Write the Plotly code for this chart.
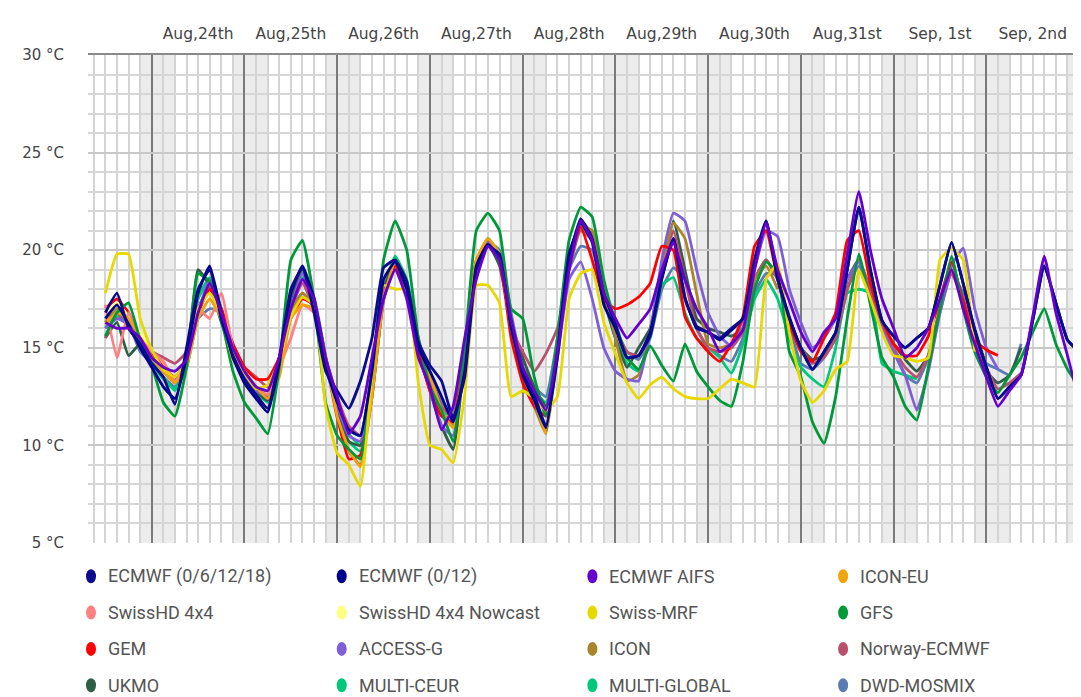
import pandas as pd
import plotly.graph_objects as go

# 3-hourly forecast steps, Aug 23 12:00 -> Sep 3 00:00
times = pd.date_range("2025-08-23 12:00", periods=85, freq="3h")

day_noons = pd.date_range("2025-08-24 12:00", periods=10, freq="D")
day_labels = ["Aug,24th", "Aug,25th", "Aug,26th", "Aug,27th", "Aug,28th",
              "Aug,29th", "Aug,30th", "Aug,31st", "Sep, 1st", "Sep, 2nd"]

ecmwf_full = [16.8, 17.8, 16.0, 15.2,
              14.2, 13.5, 12.1, 15.0, 18.0, 19.0, 16.5, 14.6,
              13.4, 12.6, 11.9, 14.5, 18.0, 19.1, 16.8, 13.8,
              12.8, 11.9, 13.3, 15.5, 19.1, 19.5, 18.4, 15.3,
              14.1, 13.3, 11.4, 13.5, 19.0, 20.2, 19.8, 16.0,
              13.8, 12.6, 11.0, 14.5, 19.5, 21.6, 20.6, 17.8,
              16.2, 14.5, 14.6, 15.6, 18.5, 20.6, 17.5, 16.1,
              15.8, 15.5, 16.0, 16.5, 19.5, 21.5, 18.5, 16.5,
              15.0, 13.9, 14.8, 15.8, 19.0, 22.2, 19.0, 16.4,
              15.6, 15.0, 15.5, 16.0, 18.2, 20.4, 18.3, 15.9,
              14.0, 12.4, 13.0, 13.6, 16.4, 19.2, 17.3, 15.4,
              14.8]

ecmwf_012 = [16.5, 17.2, 16.2, 15.0,
             14.0, 13.0, 12.4, 14.5, 17.8, 19.2, 16.8, 14.5,
             13.2, 12.4, 11.7, 14.2, 17.8, 19.2, 17.5, 14.0,
             12.2, 10.8, 10.5, 13.8, 18.5, 19.4, 18.0, 15.0,
             13.8, 12.5, 11.2, 13.8, 19.2, 20.3, 19.6, 16.2,
             13.6, 12.3, 10.9, 14.8, 19.8, 21.4, 20.4, 17.2,
             16.0, 14.5, 14.6, 15.8, 18.6, 20.6, 17.6, 16.0,
             15.8, 15.4, 15.9, 16.5, 19.4, 21.5, 18.6, 16.6,
             15.0, 13.9, 14.8, 15.8, 19.0, 22.2, 19.0, 16.4,
             15.6, 15.0, 15.5, 16.0, 18.2, 20.4, 18.3, 15.9,
             14.0, 12.4, 13.0, 13.6, 16.4, 19.2, 17.3, 15.4,
             14.8]

ecmwf_aifs = [16.3, 16.0, 16.0, 15.5,
              14.5, 14.0, 13.8, 14.4, 16.8, 18.3, 16.8, 15.0,
              13.8, 13.0, 12.8, 14.5, 17.0, 18.5, 17.5, 14.5,
              12.5, 10.6, 11.5, 14.5, 17.5, 19.0, 17.5, 14.5,
              13.0, 10.8, 12.0, 15.5, 18.5, 20.2, 19.5, 16.5,
              14.0, 12.8, 11.8, 14.8, 19.0, 21.5, 20.5, 17.8,
              16.5, 15.5, 16.2, 17.0, 19.0, 20.4, 18.5, 17.0,
              16.0, 14.8, 15.2, 15.9, 19.0, 21.4, 19.0, 17.4,
              15.8, 14.8, 15.8, 16.5, 19.8, 23.0, 20.0, 17.5,
              16.0, 14.5, 15.0, 16.0, 17.5, 19.0, 17.0, 15.2,
              13.5, 12.0, 12.8, 13.6, 16.6, 19.7, 16.8, 14.6,
              12.3]

icon_eu = [16.2, 16.8, 16.5, 15.5,
           14.5, 13.8, 13.2, 14.0, 16.5, 17.5, 16.5, 14.8,
           13.8, 13.0, 12.4, 13.5, 16.5, 17.2, 17.0, 14.5,
           11.5, 9.8, 8.9, 12.5, 17.5, 19.4, 18.3, 15.3,
           13.6, 11.8, 10.9, 14.5, 19.5, 20.6, 19.8, 16.0,
           13.8, 12.3, 10.6] + [None] * 46

swisshd = [17.2, 14.5, 16.8, 15.5,
           14.8, 14.3, 13.3, 14.2, 17.0, 16.5, 17.8, 15.0,
           13.8, 13.0, 12.6, 14.0, 15.5, 17.2, 16.8, 14.0,
           12.0] + [None] * 64

swisshd_nowcast = [16.8, 17.3, 16.6, 15.8, 14.8] + [None] * 80

swiss_mrf = [17.8, 19.8, 19.8, 16.5,
             14.9, 13.9, 13.5, 14.5, 17.0, 17.8, 16.7, 14.4,
             13.7, 12.9, 13.1, 14.3, 16.6, 17.6, 17.2, 12.0,
             9.6, 9.0, 7.9, 13.5, 18.2, 18.0, 18.0, 13.2,
             10.0, 9.8, 9.1, 12.6, 18.2, 18.2, 17.3, 12.5,
             12.8, 12.4, 11.8, 12.5, 17.5, 18.8, 19.0, 16.3,
             14.7, 13.2, 12.4, 13.1, 13.5, 12.9, 12.5, 12.4,
             12.4, 12.9, 13.4, 13.2, 13.0, 18.5, 19.3, 15.8,
             13.3, 12.2, 12.8, 13.9, 14.3, 19.0, 17.5, 15.8,
             14.6, 14.5, 14.3, 14.5, 19.5, 20.1, 19.5, 14.8] + [None] * 9

gfs = [15.6, 16.8, 17.3, 15.4,
       14.1, 12.2, 11.5, 14.0, 18.8, 18.4, 16.5, 13.8,
       12.2, 11.4, 10.6, 14.0, 19.5, 20.5, 17.5, 12.2,
       10.5, 9.8, 9.3, 13.5, 19.5, 21.5, 20.0, 15.5,
       13.0, 11.8, 10.2, 15.0, 21.0, 21.9, 21.0, 17.0,
       16.5, 13.5, 11.5, 15.5, 20.5, 22.2, 21.7, 18.5,
       16.3, 14.5, 13.9, 15.1, 14.1, 13.3, 15.2, 13.8,
       13.0, 12.3, 12.0, 14.3, 18.0, 19.4, 18.8, 14.8,
       13.5, 11.2, 10.1, 12.5, 16.5, 19.8, 17.2, 14.5,
       13.5, 12.0, 11.3, 14.0, 17.0, 19.7, 17.0, 14.8,
       13.5, 12.7, 13.6, 14.5, 15.8, 17.0, 15.2, 13.9,
       13.0]

gem = [17.0, 17.5, 16.8, 15.5,
       14.8, 14.0, 13.5, 14.3, 16.8, 18.0, 17.0, 15.2,
       14.0, 13.4, 13.4, 14.5, 16.5, 17.5, 17.2, 14.5,
       11.5, 9.3, 9.5, 12.5, 17.5, 19.2, 18.0, 14.8,
       12.8, 11.5, 11.2, 14.8, 19.5, 20.3, 19.5, 15.5,
       13.2, 12.0, 11.5, 14.8, 19.5, 21.2, 19.5, 17.5,
       17.0, 17.2, 17.6, 18.3, 20.2, 20.0, 16.6, 15.5,
       14.8, 14.3, 15.2, 16.6, 20.2, 21.0, 18.5, 16.3,
       14.8, 14.3, 15.5, 16.8, 20.5, 21.0, 18.3, 16.4,
       15.2, 14.6, 14.6, 15.6, 17.5, 19.4, 17.4, 15.4,
       14.9, 14.6] + [None] * 7

access_g = [16.0, 16.5, 16.3, 15.5,
            14.5, 13.8, 13.2, 14.0, 16.8, 18.5, 17.0, 15.0,
            13.5, 12.8, 12.5, 14.2, 17.0, 18.8, 17.5, 14.2,
            12.0, 10.5, 10.2, 13.5, 17.5, 19.3, 18.0, 14.8,
            12.8, 11.0, 10.5, 15.0, 19.0, 20.4, 19.5, 16.0,
            13.8, 12.8, 11.8, 14.5, 18.5, 19.4, 17.5, 15.0,
            13.8, 13.4, 13.3, 15.8, 19.5, 21.9, 21.5, 19.0,
            16.8, 15.6, 15.1, 16.5, 19.0, 21.0, 20.7, 18.0,
            16.3, 15.0, 15.5, 16.5, 18.5, 19.4, 17.5, 16.0,
            14.8, 13.6, 11.8, 13.8, 16.8, 19.2, 20.1, 17.0,
            15.0, 13.9] + [None] * 7

icon = [16.3, 17.0, 16.5, 15.4,
        14.6, 13.8, 13.2, 14.2, 16.8, 18.0, 16.8, 14.8,
        13.7, 13.0, 12.5, 13.8, 16.8, 17.8, 17.2, 14.4,
        11.4, 9.7, 9.0, 12.5, 17.4, 19.3, 18.2, 15.2,
        13.5, 11.8, 11.0, 14.6, 19.4, 20.5, 19.7, 16.2,
        13.5, 12.0, 10.6, 14.6, 19.4, 21.2, 21.0, 18.0,
        15.5, 13.3, 13.6, 15.8, 19.0, 21.4, 20.6, 17.8,
        15.2, 15.0, 15.2, 16.0, 18.5, 19.2, 18.0] + [None] * 26

norway_ecmwf = [15.5, 16.8, 16.0, 15.2,
                14.8, 14.5, 14.2, 14.8, 17.0, 18.2, 16.8, 15.2,
                14.0, 13.5, 13.0, 14.5, 17.0, 18.3, 17.0, 14.5,
                12.5, 11.0, 10.5, 13.8, 17.8, 19.0, 18.0, 15.0,
                13.5, 12.0, 11.5, 15.0, 19.0, 20.3, 19.6, 16.0,
                14.8, 13.8, 14.7, 16.0, 19.0, 21.0, 20.5, 17.8,
                16.0, 14.8, 14.6, 15.8, 19.0, 21.0, 18.5, 16.0,
                15.0, 14.8, 15.0, 15.8, 18.5, 19.5, 18.5, 16.5,
                15.0, 14.2, 14.5, 15.5, 18.0, 19.5, 18.0, 16.2,
                15.0, 14.0, 13.5, 14.6, 17.0, 18.8, 17.5, 15.5,
                14.0, 12.9, 13.2, 13.7] + [None] * 5

ukmo = [15.5, 16.3, 14.6, 15.2,
        14.5, 13.8, 13.3, 14.5, 19.0, 18.2, 16.3, 14.6,
        13.6, 12.8, 12.3, 14.0, 17.5, 19.0, 17.5, 14.3,
        11.8, 10.2, 10.0, 13.6, 18.0, 19.4, 18.2, 15.0,
        12.8, 11.0, 9.8, 14.5, 19.2, 20.3, 19.2, 16.3,
        14.5, 13.0, 12.0, 14.8, 19.2, 21.5, 20.8, 17.5,
        15.5, 14.0, 15.0, 16.0, 18.8, 21.5, 19.0, 16.5,
        16.0, 15.8, 15.6, 16.0, 18.5, 19.5, 18.5, 16.2,
        15.0, 14.4, 14.6, 15.5, 18.5, 19.5, 17.8, 16.0,
        15.2, 14.4, 13.8, 14.6, 17.0, 19.0, 17.2, 15.0,
        13.8, 13.2, 13.6, 15.0] + [None] * 5

multi_ceur = [16.0, 16.6, 16.4, 15.2,
              14.2, 13.4, 12.9, 14.2, 17.6, 18.6, 17.0, 14.8,
              13.4, 12.7, 12.4, 14.0, 17.4, 18.6, 17.6, 14.6,
              11.6, 10.2, 9.7, 13.6, 17.9, 19.7, 18.5, 15.4,
              13.3, 12.0, 11.6, 15.2, 19.4, 20.6, 19.8, 16.4,
              14.0, 12.8, 12.0, 15.0, 19.6, 21.3, 20.6, 17.6,
              16.0] + [None] * 40

multi_global = [16.0, 16.8, 16.5, 15.3,
                14.3, 13.5, 12.8, 14.0, 17.5, 18.5, 17.0, 14.8,
                13.5, 12.8, 12.2, 14.2, 17.6, 18.8, 17.5, 14.5,
                11.8, 10.6, 10.0, 13.5, 17.8, 19.6, 18.4, 15.2,
                13.2, 11.8, 11.5, 15.0, 19.4, 20.6, 19.6, 16.2,
                14.0, 12.8, 12.2, 15.0, 19.5, 21.2, 20.5, 17.5,
                15.5, 14.2, 13.8, 15.6, 18.2, 18.6, 16.8, 15.5,
                15.0, 14.5, 13.7, 15.2, 17.5, 18.5, 17.5, 15.5,
                14.0, 13.4, 13.0, 15.0, 17.8, 18.0, 17.8, 14.2,
                13.8, 13.6, 13.4] + [None] * 14

dwd_mosmix = [16.2, 16.5, 16.2, 14.8,
              14.2, 13.5, 13.0, 14.0, 16.5, 17.0, 16.8, 14.8,
              13.2, 12.6, 12.3, 14.0, 17.0, 17.8, 17.0, 14.2,
              12.0, 10.8, 10.5, 13.8, 17.8, 19.2, 18.3, 15.5,
              13.5, 12.2, 11.8, 15.0, 19.4, 20.4, 20.0, 16.8,
              14.0, 13.0, 12.5, 15.5, 19.0, 20.2, 20.0, 17.8,
              16.0, 14.8, 14.4, 15.5, 18.0, 19.1, 18.5, 16.0,
              15.0, 14.6, 14.3, 15.5, 17.8, 18.8, 18.7, 16.2,
              14.2, 13.9, 14.5, 15.5, 18.0, 19.2, 18.0, 16.0,
              14.8, 13.6, 13.2, 14.5, 16.8, 18.8, 17.8, 16.0,
              14.2, 13.9, 13.6, 15.2] + [None] * 5

# legend order
models = [
    ("ECMWF (0/6/12/18)", "#0b0b8c", ecmwf_full),
    ("ECMWF (0/12)", "#00008f", ecmwf_012),
    ("ECMWF AIFS", "#6600cc", ecmwf_aifs),
    ("ICON-EU", "#f0a30a", icon_eu),
    ("SwissHD 4x4", "#ff8080", swisshd),
    ("SwissHD 4x4 Nowcast", "#ffff80", swisshd_nowcast),
    ("Swiss-MRF", "#e6d800", swiss_mrf),
    ("GFS", "#00993a", gfs),
    ("GEM", "#ff0000", gem),
    ("ACCESS-G", "#7f5fd5", access_g),
    ("ICON", "#a8842c", icon),
    ("Norway-ECMWF", "#b8506e", norway_ecmwf),
    ("UKMO", "#2e5e48", ukmo),
    ("MULTI-CEUR", "#00c87a", multi_ceur),
    ("MULTI-GLOBAL", "#00c87a", multi_global),
    ("DWD-MOSMIX", "#5b7bb2", dwd_mosmix),
]

draw_order = ["DWD-MOSMIX", "MULTI-GLOBAL", "MULTI-CEUR", "UKMO", "Norway-ECMWF",
              "ICON", "ACCESS-G", "GEM", "SwissHD 4x4 Nowcast", "SwissHD 4x4",
              "ICON-EU", "GFS", "Swiss-MRF", "ECMWF (0/12)", "ECMWF (0/6/12/18)",
              "ECMWF AIFS"]
lookup = {m[0]: m for m in models}

fig = go.Figure()
for name in draw_order:
    _, color, vals = lookup[name]
    fig.add_trace(go.Scatter(x=times, y=vals, name=name, mode="lines",
                             line=dict(color=color, width=2.8, shape="spline", smoothing=0.4),
                             connectgaps=False, showlegend=False))

# invisible trace to carry the top date labels
fig.add_trace(go.Scatter(x=[times[0]], y=[None], xaxis="x2", showlegend=False,
                         hoverinfo="skip"))

# night shading 21:00 -> 06:00
shapes = []
for d in pd.date_range("2025-08-23", "2025-09-02", freq="D"):
    shapes.append(dict(type="rect", xref="x", yref="paper", layer="below",
                       x0=d + pd.Timedelta(hours=21), x1=d + pd.Timedelta(hours=30),
                       y0=0, y1=1, fillcolor="#ececec", line_width=0))

# the page body adds an 8px margin, so the figure is drawn 8px smaller
# page coords of the plot area: x 88..1081, y 54.7..542.7
plot_l, plot_w, plot_b, plot_h = 88, 993, 542.7, 488
annotations = []
for i, (name, color, _) in enumerate(models):
    px = 91 + 250.7 * (i % 4)
    py = 576 + 36.3 * (i // 4)
    xp = (px - plot_l) / plot_w
    yp = (plot_b - py) / plot_h
    shapes.append(dict(type="circle", xref="paper", yref="paper",
                       xsizemode="pixel", ysizemode="pixel",
                       xanchor=xp, yanchor=yp, x0=-5, x1=5, y0=-7, y1=7,
                       fillcolor=color, line_width=0))
    annotations.append(dict(x=(px + 15 - plot_l) / plot_w, y=yp, xref="paper", yref="paper",
                            text=name, showarrow=False, xanchor="left", yanchor="middle",
                            font=dict(family="Roboto", size=18, color="#555555")))

fig.update_layout(
    width=1073, height=689,
    margin=dict(l=80, r=0, t=47, b=154),
    paper_bgcolor="white", plot_bgcolor="white",
    showlegend=False,
    shapes=shapes, annotations=annotations,
    font=dict(family="DejaVu Sans", color="#444444"),
    xaxis=dict(
        range=["2025-08-23 07:30", "2025-09-03 00:30"],
        tick0="2025-08-24", dtick=86400000,
        showgrid=True, gridcolor="#7a7a7a", gridwidth=1.5,
        minor=dict(dtick=10800000, showgrid=True, gridcolor="#d4d4d4", gridwidth=1.5),
        showticklabels=False, ticks="", zeroline=False, showline=False,
    ),
    xaxis2=dict(
        overlaying="x", side="top", matches="x",
        tickmode="array", tickvals=day_noons, ticktext=day_labels,
        showgrid=False, ticks="outside", ticklen=8, tickcolor="rgba(0,0,0,0)",
        tickfont=dict(size=15.5, color="#444444"),
        showline=True, linecolor="#8a8a8a", linewidth=2,
    ),
    yaxis=dict(
        range=[5, 30], dtick=5, ticksuffix=" °C",
        showgrid=True, gridcolor="#c8c8c8", gridwidth=1.5,
        minor=dict(dtick=1, showgrid=True, gridcolor="#d6d6d6", gridwidth=1.5),
        ticks="outside", ticklen=20, tickcolor="rgba(0,0,0,0)",
        tickfont=dict(size=15, color="#444444"),
        zeroline=False,
    ),
)

fig.write_html("out.html")
